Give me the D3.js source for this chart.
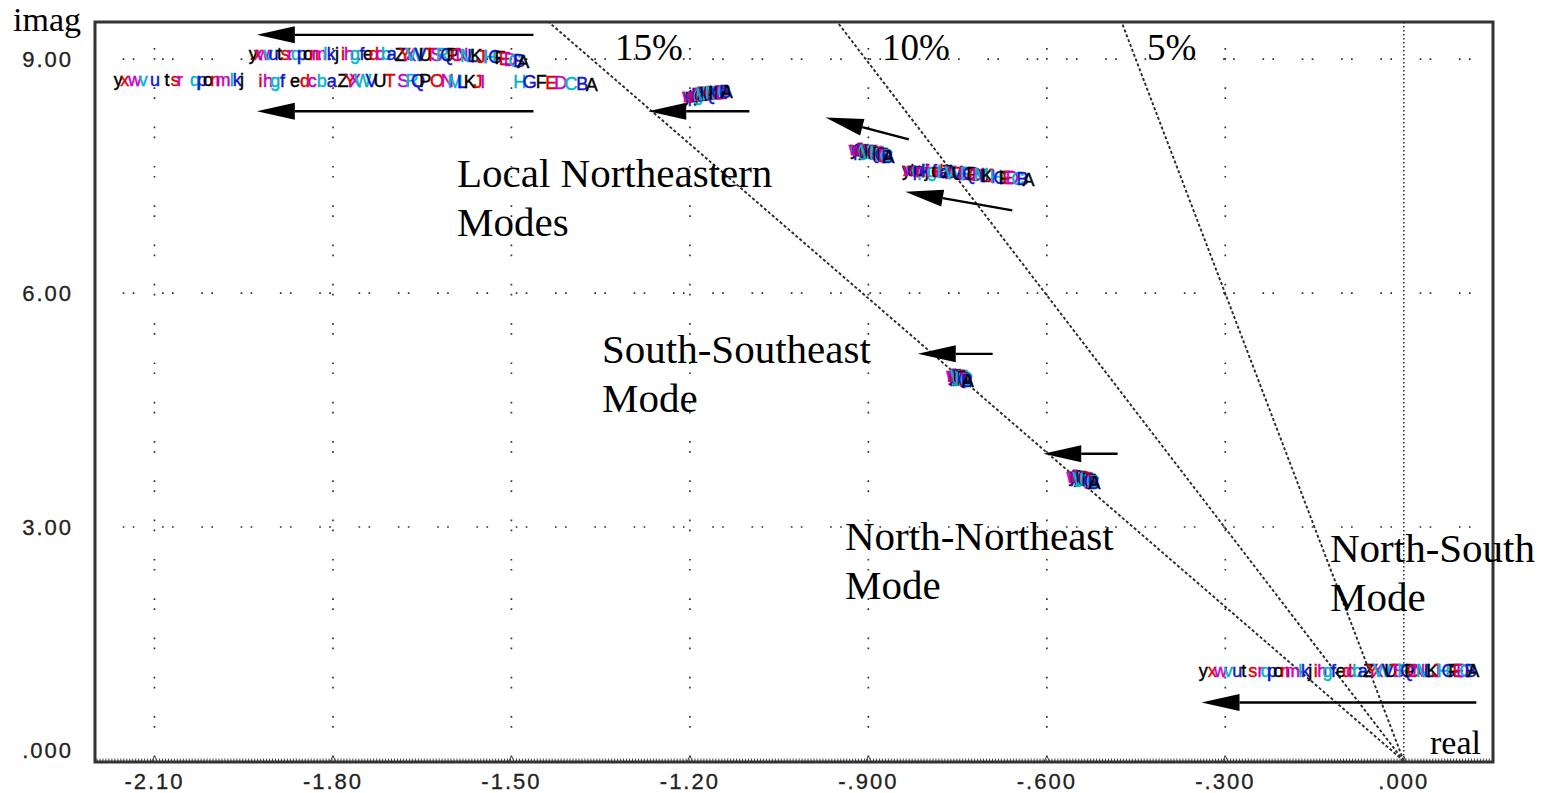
<!DOCTYPE html>
<html>
<head>
<meta charset="utf-8">
<script src="https://cdn.jsdelivr.net/npm/d3@7"></script>
<style>
  html, body { margin: 0; padding: 0; background: #ffffff; }
  svg { display: block; }
</style>
</head>
<body>
<svg id="chart" width="1547" height="793"></svg>
<script>
// ---- Case labels: one letter per operating case, A..Z then a..y ----
const caseLetters = "ABCDEFGHIJKLMNOPQRSTUVWXYZabcdefghijklmnopqrstuvwxy".split("");
const caseColors = ["#000000", "#1414d2", "#00b6c8", "#c400c4", "#e00000"];

// ---- Axis ticks ----
const xTickValues = [-2.1, -1.8, -1.5, -1.2, -0.9, -0.6, -0.3, 0];
const xTickLabels = ["-2.10", "-1.80", "-1.50", "-1.20", "-.900", "-.600", "-.300", ".000"];
const yTickValues = [0, 3, 6, 9];
const yTickLabels = [".000", "3.00", "6.00", "9.00"];

// ---- Constant damping rays ----
const dampingRatios = [0.15, 0.10, 0.05];
const dampingLabels = ["15%", "10%", "5%"];

// ---- Eigenvalue trajectories (real, imag) per case A..y ----
const localUpperReal = [
  -1.480,-1.487,-1.494,-1.502,-1.511,-1.519,-1.527,-1.536,-1.544,-1.551,
  -1.559,-1.566,-1.574,-1.583,-1.591,-1.599,-1.608,-1.616,-1.626,-1.636,
  -1.645,-1.653,-1.662,-1.670,-1.679,-1.687,-1.701,-1.711,-1.721,-1.731,
  -1.741,-1.751,-1.763,-1.773,-1.783,-1.793,-1.803,-1.813,-1.823,-1.832,
  -1.842,-1.852,-1.862,-1.872,-1.880,-1.890,-1.900,-1.909,-1.917,-1.926,
  -1.934];
const localUpperImag = [
  8.96,8.97,8.98,8.99,9.00,9.01,9.02,9.02,9.03,9.03,
  9.04,9.04,9.04,9.05,9.05,9.05,9.05,9.05,9.05,9.05,
  9.05,9.05,9.05,9.05,9.05,9.05,9.06,9.06,9.06,9.06,
  9.06,9.06,9.06,9.06,9.06,9.06,9.07,9.07,9.07,9.07,
  9.07,9.07,9.07,9.07,9.07,9.07,9.07,9.07,9.07,9.07,
  9.07];

const localLowerReal = [
  -1.365,-1.381,-1.400,-1.417,-1.433,-1.450,-1.469,-1.486,-1.548,-1.556,
  -1.570,-1.583,-1.595,-1.608,-1.625,-1.645,-1.657,-1.667,-1.682,-1.704,
  -1.721,-1.735,-1.750,-1.763,-1.771,-1.783,-1.802,-1.819,-1.835,-1.847,
  -1.864,-1.885,-1.897,-1.909,-1.922,-1.953,-1.961,-1.970,-1.985,-1.998,
  -2.010,-2.020,-2.032,-2.057,-2.065,-2.079,-2.099,-2.119,-2.133,-2.150,
  -2.161];
const localLowerImag = [
  8.67,8.68,8.68,8.69,8.69,8.70,8.70,8.70,8.71,8.71,
  8.71,8.71,8.71,8.72,8.72,8.72,8.72,8.72,8.72,8.72,
  8.72,8.72,8.72,8.72,8.72,8.72,8.72,8.72,8.72,8.72,
  8.72,8.72,8.72,8.72,8.72,8.73,8.73,8.73,8.73,8.73,
  8.73,8.73,8.73,8.73,8.73,8.73,8.73,8.73,8.73,8.73,
  8.73];

const localThirdReal = [
  -1.138,-1.141,-1.143,-1.146,-1.147,-1.150,-1.152,-1.153,-1.156,-1.157,
  -1.159,-1.160,-1.162,-1.163,-1.165,-1.166,-1.167,-1.169,-1.170,-1.171,
  -1.172,-1.174,-1.175,-1.176,-1.177,-1.178,-1.180,-1.181,-1.182,-1.183,
  -1.184,-1.185,-1.186,-1.187,-1.188,-1.189,-1.190,-1.191,-1.192,-1.193,
  -1.194,-1.195,-1.196,-1.197,-1.198,-1.199,-1.200,-1.201,-1.202,-1.203,
  -1.204];
const localThirdImag = [
  8.58,8.58,8.58,8.57,8.57,8.57,8.57,8.57,8.56,8.56,
  8.56,8.56,8.56,8.56,8.56,8.55,8.55,8.55,8.55,8.55,
  8.55,8.55,8.55,8.55,8.55,8.55,8.54,8.54,8.54,8.54,
  8.54,8.54,8.54,8.54,8.54,8.54,8.54,8.54,8.53,8.53,
  8.53,8.53,8.53,8.53,8.53,8.53,8.53,8.53,8.53,8.53,
  8.53];

const localFourthReal = [
  -0.866,-0.868,-0.870,-0.872,-0.874,-0.876,-0.877,-0.879,-0.880,-0.882,
  -0.883,-0.885,-0.886,-0.887,-0.889,-0.890,-0.891,-0.893,-0.894,-0.895,
  -0.896,-0.897,-0.899,-0.900,-0.901,-0.902,-0.903,-0.904,-0.905,-0.906,
  -0.907,-0.908,-0.909,-0.910,-0.911,-0.912,-0.913,-0.914,-0.914,-0.915,
  -0.916,-0.917,-0.918,-0.918,-0.919,-0.920,-0.920,-0.921,-0.922,-0.922,
  -0.923];
const localFourthImag = [
  7.75,7.75,7.76,7.76,7.76,7.77,7.77,7.77,7.78,7.78,
  7.78,7.78,7.79,7.79,7.79,7.79,7.80,7.80,7.80,7.80,
  7.80,7.81,7.81,7.81,7.81,7.81,7.82,7.82,7.82,7.82,
  7.82,7.82,7.83,7.83,7.83,7.83,7.83,7.83,7.83,7.84,
  7.84,7.84,7.84,7.84,7.84,7.84,7.84,7.84,7.85,7.85,
  7.85];

const localFifthReal = [
  -0.631,-0.641,-0.649,-0.658,-0.665,-0.671,-0.678,-0.685,-0.690,-0.695,
  -0.700,-0.705,-0.710,-0.715,-0.720,-0.725,-0.730,-0.735,-0.740,-0.745,
  -0.749,-0.752,-0.757,-0.761,-0.764,-0.767,-0.772,-0.776,-0.779,-0.782,
  -0.786,-0.789,-0.793,-0.796,-0.799,-0.802,-0.804,-0.807,-0.809,-0.812,
  -0.814,-0.817,-0.819,-0.821,-0.824,-0.826,-0.827,-0.829,-0.831,-0.834,
  -0.836];
const localFifthImag = [
  7.45,7.46,7.46,7.47,7.47,7.48,7.48,7.49,7.49,7.50,
  7.50,7.50,7.51,7.51,7.51,7.52,7.52,7.52,7.53,7.53,
  7.53,7.54,7.54,7.54,7.54,7.55,7.55,7.55,7.55,7.56,
  7.56,7.56,7.56,7.56,7.57,7.57,7.57,7.57,7.57,7.57,
  7.58,7.58,7.58,7.58,7.58,7.58,7.58,7.58,7.58,7.58,
  7.58];

const southSoutheastReal = [
  -0.733,-0.734,-0.735,-0.736,-0.737,-0.737,-0.738,-0.739,-0.740,-0.740,
  -0.741,-0.742,-0.742,-0.743,-0.744,-0.744,-0.745,-0.745,-0.746,-0.746,
  -0.747,-0.747,-0.748,-0.748,-0.749,-0.749,-0.750,-0.750,-0.751,-0.751,
  -0.752,-0.752,-0.752,-0.753,-0.753,-0.754,-0.754,-0.754,-0.755,-0.755,
  -0.755,-0.756,-0.756,-0.756,-0.757,-0.757,-0.757,-0.757,-0.758,-0.758,
  -0.758];
const southSoutheastImag = [
  4.87,4.87,4.88,4.88,4.88,4.88,4.89,4.89,4.89,4.89,
  4.90,4.90,4.90,4.90,4.90,4.91,4.91,4.91,4.91,4.91,
  4.91,4.92,4.92,4.92,4.92,4.92,4.92,4.92,4.93,4.93,
  4.93,4.93,4.93,4.93,4.93,4.93,4.94,4.94,4.94,4.94,
  4.94,4.94,4.94,4.94,4.94,4.95,4.95,4.95,4.95,4.95,
  4.95];

const northNortheastReal = [
  -0.520,-0.521,-0.523,-0.524,-0.525,-0.526,-0.527,-0.528,-0.529,-0.530,
  -0.531,-0.532,-0.533,-0.534,-0.535,-0.536,-0.537,-0.538,-0.539,-0.539,
  -0.540,-0.541,-0.542,-0.542,-0.543,-0.544,-0.545,-0.545,-0.546,-0.547,
  -0.547,-0.548,-0.548,-0.549,-0.550,-0.550,-0.551,-0.551,-0.552,-0.552,
  -0.553,-0.553,-0.554,-0.554,-0.554,-0.555,-0.555,-0.555,-0.556,-0.556,
  -0.556];
const northNortheastImag = [
  3.57,3.57,3.58,3.58,3.58,3.59,3.59,3.59,3.59,3.60,
  3.60,3.60,3.60,3.61,3.61,3.61,3.61,3.61,3.62,3.62,
  3.62,3.62,3.62,3.62,3.63,3.63,3.63,3.63,3.63,3.63,
  3.63,3.64,3.64,3.64,3.64,3.64,3.64,3.64,3.64,3.65,
  3.65,3.65,3.65,3.65,3.65,3.65,3.65,3.65,3.65,3.65,
  3.65];

const northSouthReal = [
   0.117, 0.112, 0.104, 0.099, 0.092, 0.084, 0.075, 0.067, 0.059, 0.054,
   0.048, 0.042, 0.033, 0.025, 0.017, 0.011, 0.006, 0.000,-0.009,-0.014,
  -0.022,-0.027,-0.036,-0.044,-0.053,-0.059,-0.069,-0.078,-0.089,-0.095,
  -0.106,-0.118,-0.128,-0.137,-0.148,-0.157,-0.165,-0.174,-0.187,-0.199,
  -0.211,-0.221,-0.232,-0.241,-0.254,-0.269,-0.280,-0.295,-0.308,-0.322,
  -0.337];
const northSouthImag = [
  1.16,1.16,1.16,1.16,1.16,1.16,1.16,1.16,1.16,1.16,
  1.16,1.16,1.16,1.16,1.16,1.16,1.16,1.16,1.16,1.16,
  1.15,1.15,1.15,1.15,1.15,1.15,1.15,1.15,1.15,1.15,
  1.15,1.15,1.15,1.15,1.15,1.15,1.15,1.15,1.15,1.15,
  1.15,1.15,1.15,1.15,1.15,1.15,1.15,1.15,1.15,1.15,
  1.15];

// ---- Direction arrows (tail -> tip) in the s-plane ----
const arrowTails = [[-1.463, 9.31], [-1.463, 8.33], [-1.100, 8.33], [-0.832, 7.97],
                    [-0.658, 7.06], [-0.691, 5.22], [-0.481, 3.94], [0.122, 0.75]];
const arrowTips  = [[-1.928, 9.31], [-1.928, 8.33], [-1.270, 8.33], [-0.972, 8.25],
                    [-0.838, 7.30], [-0.817, 5.22], [-0.606, 3.94], [-0.340, 0.75]];

// ---- Mode group captions ----
const captionLines = [["Local Northeastern", "Modes"], ["South-Southeast", "Mode"],
                      ["North-Northeast", "Mode"], ["North-South", "Mode"]];

// ------------------------------------------------------------------
const svg = d3.select("#chart");
const plotL = 95, plotR = 1493, plotT = 22, plotB = 762;

const x = d3.scaleLinear().domain([-2.2, 0.15]).range([plotL, plotR]);
const y = d3.scaleLinear().domain([0, 9.475]).range([761, plotT]);

svg.append("rect").attr("width", 1547).attr("height", 793).attr("fill", "#fff");

svg.append("defs").append("clipPath").attr("id", "plotClip")
  .append("rect").attr("x", plotL).attr("y", plotT)
  .attr("width", plotR - plotL).attr("height", plotB - plotT);

// Grid: paired dots along each major gridline
const grid = svg.append("g").attr("class", "grid");
xTickValues.filter(v => v !== 0).forEach(v => {
  grid.append("line")
    .attr("x1", x(v)).attr("x2", x(v)).attr("y1", plotT).attr("y2", plotB)
    .attr("stroke", "#333").attr("stroke-width", 1.7)
    .attr("stroke-dasharray", "1.7 8.3 1.7 27.6")
    .attr("stroke-dashoffset", 13.3);
});
yTickValues.filter(v => v !== 0).forEach(v => {
  grid.append("line")
    .attr("x1", plotL).attr("x2", plotR).attr("y1", y(v)).attr("y2", y(v))
    .attr("stroke", "#333").attr("stroke-width", 1.7)
    .attr("stroke-dasharray", "1.7 8.3 1.7 27.6")
    .attr("stroke-dashoffset", 11.6);
});
// imaginary axis
grid.append("line")
  .attr("x1", x(0)).attr("x2", x(0)).attr("y1", plotT).attr("y2", plotB)
  .attr("stroke", "#333").attr("stroke-width", 1.6)
  .attr("stroke-dasharray", "1.6 2.4");

// Constant damping rays from the origin to the top of the plot
const yMax = y.domain()[1];
const rays = svg.append("g").attr("clip-path", "url(#plotClip)");
dampingRatios.forEach(z => {
  const reTop = -yMax * z / Math.sqrt(1 - z * z);
  rays.append("line")
    .attr("x1", x(0)).attr("y1", y(0))
    .attr("x2", x(reTop)).attr("y2", y(yMax))
    .attr("stroke", "#2a2a2a").attr("stroke-width", 1.9)
    .attr("stroke-dasharray", "3 2.2");
});

// Eigenvalue case letters
const modes = [
  { re: localUpperReal, im: localUpperImag },
  { re: localLowerReal, im: localLowerImag },
  { re: localThirdReal, im: localThirdImag },
  { re: localFourthReal, im: localFourthImag },
  { re: localFifthReal, im: localFifthImag },
  { re: southSoutheastReal, im: southSoutheastImag },
  { re: northNortheastReal, im: northNortheastImag },
  { re: northSouthReal, im: northSouthImag }
];
const pts = svg.append("g").attr("clip-path", "url(#plotClip)")
  .attr("font-family", "'Liberation Sans', Arial, sans-serif")
  .attr("font-size", 18);
modes.forEach(m => {
  pts.append("g").selectAll("text")
    .data(caseLetters.map((c, i) => ({ c, i, re: m.re[i], im: m.im[i] })).reverse())
    .join("text")
    .attr("x", d => x(d.re)).attr("y", d => y(d.im))
    .attr("text-anchor", "middle").attr("dominant-baseline", "central")
    .attr("fill", d => caseColors[d.i % caseColors.length])
    .attr("stroke", d => caseColors[d.i % caseColors.length])
    .attr("stroke-width", 0.45)
    .text(d => d.c);
});

// Arrows
const arrows = svg.append("g");
arrowTails.forEach((t, i) => {
  const p = arrowTips[i];
  const x0 = x(t[0]), y0 = y(t[1]), x1 = x(p[0]), y1 = y(p[1]);
  const ang = Math.atan2(y1 - y0, x1 - x0);
  const hl = 38, hw = 8.5;
  const bx = x1 - hl * Math.cos(ang), by = y1 - hl * Math.sin(ang);
  arrows.append("line").attr("x1", x0).attr("y1", y0).attr("x2", bx).attr("y2", by)
    .attr("stroke", "#000").attr("stroke-width", 2.4);
  const nx = -Math.sin(ang), ny = Math.cos(ang);
  arrows.append("path")
    .attr("d", `M${x1},${y1}L${bx + nx * hw},${by + ny * hw}L${bx - nx * hw},${by - ny * hw}Z`)
    .attr("fill", "#000");
});

// Minor ticks along the real axis
const minor = svg.append("g");
d3.range(0, 470).forEach(k => {
  const px = plotL + 2 + k * 2.975;
  if (px > plotR - 1) return;
  minor.append("line").attr("x1", px).attr("x2", px)
    .attr("y1", plotB - 1).attr("y2", plotB - 3.5)
    .attr("stroke", "#444").attr("stroke-width", 1);
});
xTickValues.forEach(v => {
  minor.append("path")
    .attr("d", `M${x(v) - 2.5},${plotB - 1}L${x(v)},${plotB - 6}L${x(v) + 2.5},${plotB - 1}`)
    .attr("fill", "none").attr("stroke", "#444").attr("stroke-width", 1);
});

// Frame
svg.append("rect").attr("x", plotL).attr("y", plotT)
  .attr("width", plotR - plotL).attr("height", plotB - plotT)
  .attr("fill", "none").attr("stroke", "#333").attr("stroke-width", 3);

// Tick labels
const tickFont = "'Liberation Sans', Arial, sans-serif";
svg.append("g").selectAll("text").data(xTickValues).join("text")
  .attr("x", d => x(d)).attr("y", 789)
  .attr("text-anchor", "middle")
  .attr("font-family", tickFont).attr("font-size", 22)
  .attr("letter-spacing", 2)
  .attr("fill", "#222").attr("stroke", "#222").attr("stroke-width", 0.3)
  .text((d, i) => xTickLabels[i]);
svg.append("g").selectAll("text").data(yTickValues).join("text")
  .attr("x", 73).attr("y", d => Math.min(y(d) + 8, 758))
  .attr("text-anchor", "end")
  .attr("font-family", tickFont).attr("font-size", 22)
  .attr("letter-spacing", 2)
  .attr("fill", "#222").attr("stroke", "#222").attr("stroke-width", 0.3)
  .text((d, i) => yTickLabels[i]);

// Serif annotations
const serif = "'Liberation Serif', 'Times New Roman', serif";
svg.append("text").attr("x", 13).attr("y", 31)
  .attr("font-family", serif).attr("font-size", 34).text("imag");
svg.append("text").attr("x", 1430).attr("y", 754)
  .attr("font-family", serif).attr("font-size", 34).text("real");

const dampPos = [615, 882, 1147];
dampingLabels.forEach((t, i) => {
  svg.append("text").attr("x", dampPos[i]).attr("y", 60)
    .attr("font-family", serif).attr("font-size", 37).text(t);
});

const captionPos = [[457, 187], [602, 363], [845, 550], [1330, 562]];
captionLines.forEach((lines, i) => {
  lines.forEach((ln, j) => {
    svg.append("text")
      .attr("x", captionPos[i][0]).attr("y", captionPos[i][1] + j * 48.5)
      .attr("font-family", serif).attr("font-size", 41)
      .text(ln);
  });
});
</script>
</body>
</html>
